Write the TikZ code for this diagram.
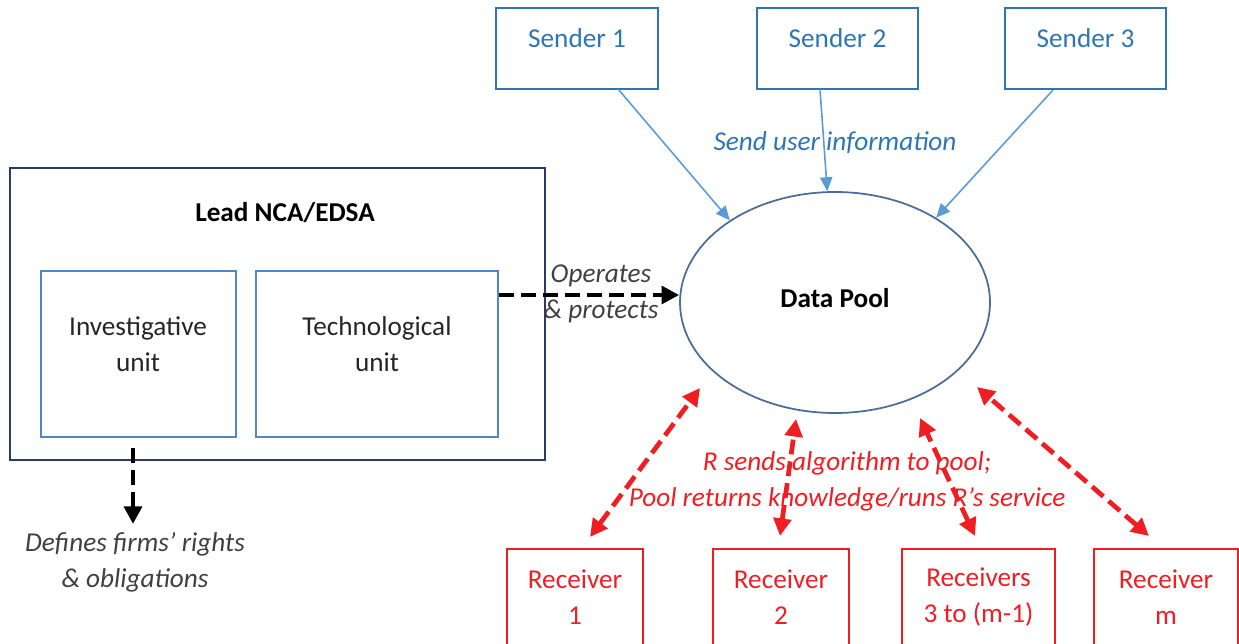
\documentclass[tikz,border=0pt]{standalone}
\usepackage{fontspec}
\setmainfont{Carlito}
\usetikzlibrary{arrows.meta,shapes.geometric}
\definecolor{sblue}{HTML}{2E75B6}
\definecolor{lblue}{HTML}{5B9BD5}
\definecolor{ublue}{HTML}{4F88C6}
\definecolor{navy}{HTML}{2B3A67}
\definecolor{eblue}{HTML}{4A6D9A}
\definecolor{rred}{HTML}{F01E23}
\definecolor{tdark}{HTML}{262626}
\definecolor{tgray}{HTML}{404040}
\tikzset{
  txt/.style={font=\fontsize{15.5}{20.5}\selectfont, align=center, inner sep=0pt},
  sendbox/.style={draw=sblue, line width=1.3pt, inner sep=0pt},
  unitbox/.style={draw=ublue, line width=1.2pt, inner sep=0pt},
  recbox/.style={draw=rred, line width=1.3pt, inner sep=0pt},
  sendarrow/.style={draw=lblue, line width=0.9pt, -{Triangle[length=8pt,width=7pt]}},
  blackdash/.style={draw=black, line width=2.7pt, dash pattern=on 8.5pt off 4pt, -{Triangle[length=10pt,width=10pt]}},
  reddash/.style={draw=rred, line width=2.7pt, dash pattern=on 8.5pt off 4pt, {Triangle[length=10pt,width=10pt]}-{Triangle[length=10pt,width=10pt]}},
}
\begin{document}
\begin{tikzpicture}[x=0.02cm, y=-0.02cm]
\useasboundingbox (0,0) rectangle (1239,644);
\clip (0,0) rectangle (1239,644);
% senders
\node[sendbox, minimum width=162*0.02cm, minimum height=81*0.02cm] (s1) at (577,48.5) {};
\node[sendbox, minimum width=161*0.02cm, minimum height=81*0.02cm] (s2) at (837.5,48.5) {};
\node[sendbox, minimum width=161*0.02cm, minimum height=81*0.02cm] (s3) at (1085.5,48.5) {};
\node[txt, text=sblue] (s1t) at (577,38) {Sender 1};
\node[txt, text=sblue] (s2t) at (837.5,38) {Sender 2};
\node[txt, text=sblue] (s3t) at (1085.5,38) {Sender 3};
% data pool
\node[draw=eblue, line width=1pt, ellipse, minimum width=310*0.02cm, minimum height=221*0.02cm, inner sep=0pt] (pool) at (835,302.5) {};
\node[txt, text=black, font=\fontsize{15.5}{20.5}\selectfont\bfseries] (poolt) at (835,298) {Data Pool};
% sender arrows
\coordinate (s1o) at (618,89);
\coordinate (s2o) at (820,89);
\coordinate (s3o) at (1053,90);
\draw[sendarrow] (s1o) -- (pool.142);
\draw[sendarrow] (s2o) -- (pool.94);
\draw[sendarrow] (s3o) -- (pool.40);
\node[txt, text=sblue, font=\fontsize{15.5}{20.5}\selectfont\itshape] (sendlab) at (835,143) {Send user information};
% lead box
\node[draw=navy, line width=1.3pt, minimum width=535*0.02cm, minimum height=292*0.02cm, inner sep=0pt] (lead) at (277.5,314) {};
\node[txt, text=black, font=\fontsize{15.5}{20.5}\selectfont\bfseries] (leadt) at (285,213) {Lead NCA/EDSA};
\node[unitbox, minimum width=195*0.02cm, minimum height=166*0.02cm] (inv) at (138.5,354) {};
\node[unitbox, minimum width=242*0.02cm, minimum height=166*0.02cm] (tech) at (377,354) {};
\node[txt, text=tdark] (invt) at (138,344) {Investigative\\unit};
\node[txt, text=tdark] (techt) at (377,344) {Technological\\unit};
% operates arrow
\coordinate (opstart) at (tech.east |- 0,295);
\draw[blackdash] (opstart) -- (pool.west |- 0,295);
\node[txt, text=tgray, font=\fontsize{15.5}{20.5}\selectfont\itshape] (oplab) at (601,294) {Operates\\\& protects};
% defines arrow
\coordinate (defstart) at (133,448);
\coordinate (defend) at (133,524);
\draw[blackdash] (defstart) -- (defend);
\node[txt, text=tgray, font=\fontsize{15.5}{20.5}\selectfont\itshape] (deflab) at (135,562) {Defines firms' rights\\\& obligations};
% receivers
\node[recbox, minimum width=136*0.02cm, minimum height=110*0.02cm] (r1) at (575,604) {};
\node[recbox, minimum width=136*0.02cm, minimum height=110*0.02cm] (r2) at (781,604) {};
\node[recbox, minimum width=153*0.02cm, minimum height=110*0.02cm] (r3) at (978.5,604) {};
\node[recbox, minimum width=144*0.02cm, minimum height=110*0.02cm] (rm) at (1166,604) {};
\node[txt, text=rred] (r1t) at (575,597) {Receiver\\1};
\node[txt, text=rred] (r2t) at (781,597) {Receiver\\2};
\node[txt, text=rred] (r3t) at (978.5,597) {Receivers\\3 to (m-1)};
\node[txt, text=rred] (rmt) at (1166,597) {Receiver\\m};
% red arrows
\coordinate (r1a) at (590,537); \coordinate (p1) at (700,388);
\coordinate (r2a) at (780,536); \coordinate (p2) at (796,419);
\coordinate (r3a) at (975,536); \coordinate (p3) at (920,418);
\coordinate (rma) at (1149,536); \coordinate (p4) at (977,387);
\draw[reddash] (r1a) -- (p1);
\draw[reddash] (r2a) -- (p2);
\draw[reddash] (r3a) -- (p3);
\draw[reddash] (rma) -- (p4);
\node[txt, text=rred, font=\fontsize{15.5}{20.5}\selectfont\itshape] (redlab) at (847,481) {R sends algorithm to pool;\\Pool returns knowledge/runs R's service};
\end{tikzpicture}
\end{document}
